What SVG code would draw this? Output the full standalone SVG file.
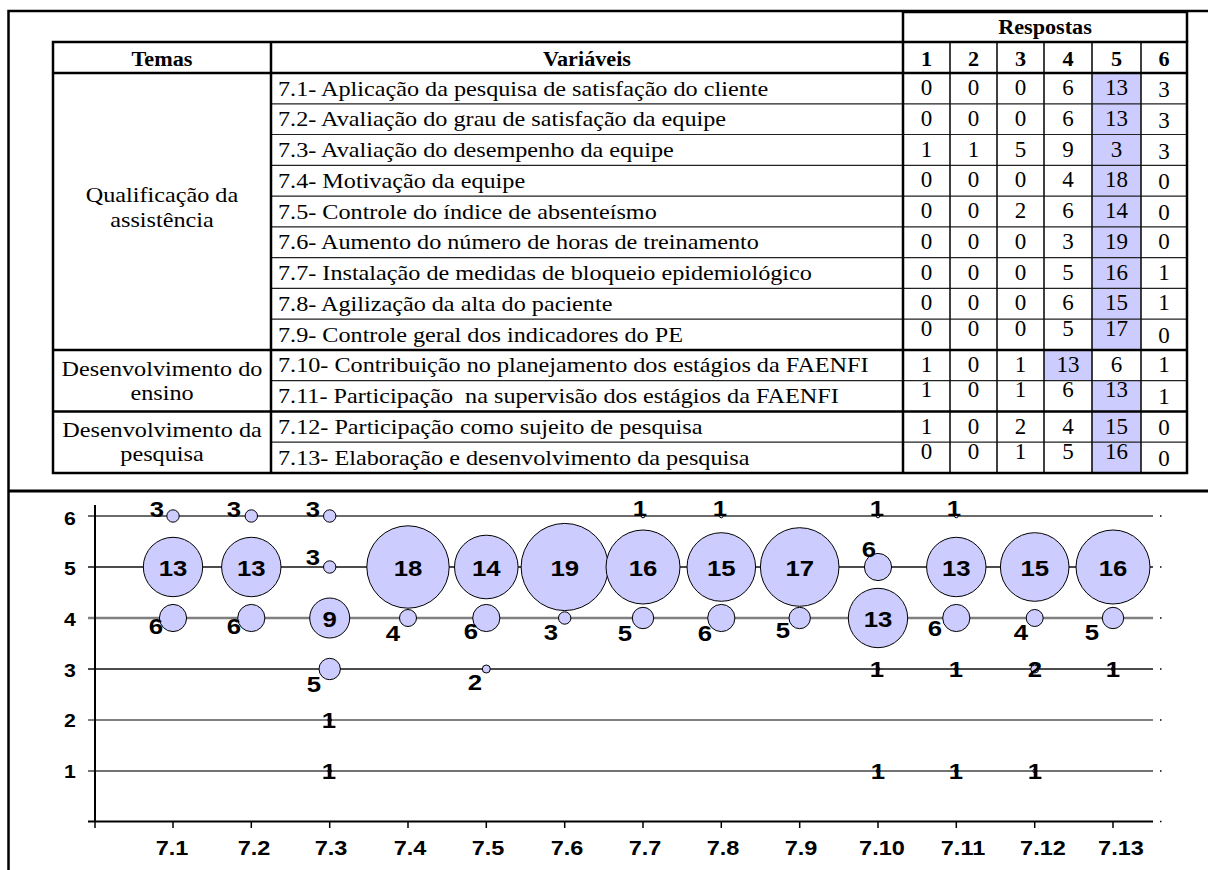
<svg xmlns="http://www.w3.org/2000/svg" width="1208" height="870" viewBox="0 0 1208 870">
<style>
.frame{fill:none;stroke:#000;stroke-width:2.5}
.thick{stroke:#000;stroke-width:2.5;fill:none}
.med{stroke:#111;stroke-width:1.6}
.thin{stroke:#222;stroke-width:1.2}
.hl{fill:#ccccff}
.tv{font-family:"Liberation Serif","Times New Roman",serif;font-size:22px;fill:#000}
.tc{font-family:"Liberation Serif","Times New Roman",serif;font-size:22px;fill:#000;text-anchor:middle}
.th{font-family:"Liberation Serif","Times New Roman",serif;font-size:20px;font-weight:bold;fill:#000;text-anchor:middle}
.tn{font-family:"Liberation Serif","Times New Roman",serif;font-size:23px;fill:#000;text-anchor:middle}
.bub{fill:#ccccff;stroke:#000;stroke-width:1}
.bl{font-family:"Liberation Sans",Arial,sans-serif;font-size:23px;font-weight:bold;fill:#000;text-anchor:middle}
.ay{font-family:"Liberation Sans",Arial,sans-serif;font-size:19px;font-weight:bold;fill:#000;text-anchor:middle}
.ax{font-family:"Liberation Sans",Arial,sans-serif;font-size:21px;font-weight:bold;fill:#000;text-anchor:middle}
</style>
<rect width="1208" height="870" fill="#fff"/>
<g id="frame">
<path class="frame" d="M8.5,870 V11 H1208"/>
<path d="M8,491 H1208" stroke="#000" stroke-width="3"/>
</g>
<g id="table">
<g id="highlights">
<rect class="hl" x="1092" y="73" width="49" height="277"/>
<rect class="hl" x="1092" y="380.7" width="49" height="92.3"/>
<rect class="hl" x="1044" y="350" width="48" height="30.7"/>
</g>
<g id="table-lines">
<g class="thin">
<path d="M271,103.8H1187M271,134.5H1187M271,165.3H1187M271,196.1H1187M271,226.9H1187M271,257.6H1187M271,288.4H1187M271,319.2H1187M271,380.7H1187M271,442.2H1187"/>
</g>
<g class="med">
<path d="M950,42V473M997,42V473M1044,42V473M1092,42V473M1141,42V473"/>
</g>
<g class="thick">
<rect x="53" y="42" width="1134" height="431"/>
<path d="M903,42V12H1187V42"/>
<path d="M903,42V473M271,42V473M53,73H1187M53,350H1187M53,411.5H1187"/>
</g>
</g>
<g id="header">
<text class="th" transform="matrix(1.11 0 0 1 1045 34)">Respostas</text>
<text class="th" transform="matrix(1.11 0 0 1 162 66)">Temas</text>
<text class="th" transform="matrix(1.11 0 0 1 587 66)">Variáveis</text>
<text class="th" transform="matrix(1.11 0 0 1 926.5 66)">1</text>
<text class="th" transform="matrix(1.11 0 0 1 973.5 66)">2</text>
<text class="th" transform="matrix(1.11 0 0 1 1020.5 66)">3</text>
<text class="th" transform="matrix(1.11 0 0 1 1068 66)">4</text>
<text class="th" transform="matrix(1.11 0 0 1 1116.5 66)">5</text>
<text class="th" transform="matrix(1.11 0 0 1 1164 66)">6</text>
</g>
<g id="temas">
<text class="tc" transform="matrix(1.1 0 0 1 162 202)">Qualificação da</text>
<text class="tc" transform="matrix(1.1 0 0 1 162 227)">assistência</text>
<text class="tc" transform="matrix(1.1 0 0 1 162 376)">Desenvolvimento do</text>
<text class="tc" transform="matrix(1.1 0 0 1 162 400)">ensino</text>
<text class="tc" transform="matrix(1.1 0 0 1 162 437)">Desenvolvimento da</text>
<text class="tc" transform="matrix(1.1 0 0 1 162 461)">pesquisa</text>
</g>
<g id="variaveis">
<text class="tv" transform="matrix(1.1 0 0 1 278 95.5)">7.1- Aplicação da pesquisa de satisfação do cliente</text>
<text class="tv" transform="matrix(1.1 0 0 1 278 126.3)">7.2- Avaliação do grau de satisfação da equipe</text>
<text class="tv" transform="matrix(1.1 0 0 1 278 157)">7.3- Avaliação do desempenho da equipe</text>
<text class="tv" transform="matrix(1.1 0 0 1 278 187.8)">7.4- Motivação da equipe</text>
<text class="tv" transform="matrix(1.1 0 0 1 278 218.6)">7.5- Controle do índice de absenteísmo</text>
<text class="tv" transform="matrix(1.1 0 0 1 278 249.4)">7.6- Aumento do número de horas de treinamento</text>
<text class="tv" transform="matrix(1.1 0 0 1 278 280.1)">7.7- Instalação de medidas de bloqueio epidemiológico</text>
<text class="tv" transform="matrix(1.1 0 0 1 278 310.9)">7.8- Agilização da alta do paciente</text>
<text class="tv" transform="matrix(1.1 0 0 1 278 341.7)">7.9- Controle geral dos indicadores do PE</text>
<text class="tv" transform="matrix(1.1 0 0 1 278 372.4)">7.10- Contribuição no planejamento dos estágios da FAENFI</text>
<text class="tv" xml:space="preserve" transform="matrix(1.1 0 0 1 278 403.2)">7.11- Participação  na supervisão dos estágios da FAENFI</text>
<text class="tv" transform="matrix(1.1 0 0 1 278 434)">7.12- Participação como sujeito de pesquisa</text>
<text class="tv" transform="matrix(1.1 0 0 1 278 464.7)">7.13- Elaboração e desenvolvimento da pesquisa</text>
</g>
<g id="respostas">
<text class="tn" y="95"><tspan x="926.5">0</tspan><tspan x="973.5">0</tspan><tspan x="1020.5">0</tspan><tspan x="1068">6</tspan><tspan x="1116.5">13</tspan><tspan x="1164" y="97">3</tspan></text>
<text class="tn" y="125.8"><tspan x="926.5">0</tspan><tspan x="973.5">0</tspan><tspan x="1020.5">0</tspan><tspan x="1068">6</tspan><tspan x="1116.5">13</tspan><tspan x="1164" y="127.8">3</tspan></text>
<text class="tn" y="156.5"><tspan x="926.5">1</tspan><tspan x="973.5">1</tspan><tspan x="1020.5">5</tspan><tspan x="1068">9</tspan><tspan x="1116.5">3</tspan><tspan x="1164" y="158.5">3</tspan></text>
<text class="tn" y="187.3"><tspan x="926.5">0</tspan><tspan x="973.5">0</tspan><tspan x="1020.5">0</tspan><tspan x="1068">4</tspan><tspan x="1116.5">18</tspan><tspan x="1164" y="189.3">0</tspan></text>
<text class="tn" y="218.1"><tspan x="926.5">0</tspan><tspan x="973.5">0</tspan><tspan x="1020.5">2</tspan><tspan x="1068">6</tspan><tspan x="1116.5">14</tspan><tspan x="1164" y="220.1">0</tspan></text>
<text class="tn" y="248.9"><tspan x="926.5">0</tspan><tspan x="973.5">0</tspan><tspan x="1020.5">0</tspan><tspan x="1068">3</tspan><tspan x="1116.5">19</tspan><tspan x="1164">0</tspan></text>
<text class="tn" y="279.6"><tspan x="926.5">0</tspan><tspan x="973.5">0</tspan><tspan x="1020.5">0</tspan><tspan x="1068">5</tspan><tspan x="1116.5">16</tspan><tspan x="1164">1</tspan></text>
<text class="tn" y="310.4"><tspan x="926.5">0</tspan><tspan x="973.5">0</tspan><tspan x="1020.5">0</tspan><tspan x="1068">6</tspan><tspan x="1116.5">15</tspan><tspan x="1164">1</tspan></text>
<text class="tn" y="335.5"><tspan x="926.5">0</tspan><tspan x="973.5">0</tspan><tspan x="1020.5">0</tspan><tspan x="1068">5</tspan><tspan x="1116.5">17</tspan><tspan x="1164" y="342.5">0</tspan></text>
<text class="tn" y="371.9"><tspan x="926.5">1</tspan><tspan x="973.5">0</tspan><tspan x="1020.5">1</tspan><tspan x="1068">13</tspan><tspan x="1116.5">6</tspan><tspan x="1164">1</tspan></text>
<text class="tn" y="397"><tspan x="926.5">1</tspan><tspan x="973.5">0</tspan><tspan x="1020.5">1</tspan><tspan x="1068">6</tspan><tspan x="1116.5">13</tspan><tspan x="1164" y="404">1</tspan></text>
<text class="tn" y="433.5"><tspan x="926.5">1</tspan><tspan x="973.5">0</tspan><tspan x="1020.5">2</tspan><tspan x="1068">4</tspan><tspan x="1116.5">15</tspan><tspan x="1164" y="435">0</tspan></text>
<text class="tn" y="458.5"><tspan x="926.5">0</tspan><tspan x="973.5">0</tspan><tspan x="1020.5">1</tspan><tspan x="1068">5</tspan><tspan x="1116.5">16</tspan><tspan x="1164" y="465.5">0</tspan></text>
</g>
</g>
<g id="chart">
<g id="gridlines">
<path d="M88,516H1153" stroke="#3a3a3a" stroke-width="1.5"/>
<path d="M88,567H1153" stroke="#111" stroke-width="1.5"/>
<path d="M88,618H1153" stroke="#808080" stroke-width="2.5"/>
<path d="M88,669H1153" stroke="#111" stroke-width="1.5"/>
<path d="M88,720H1153" stroke="#808080" stroke-width="2"/>
<path d="M88,771H1153" stroke="#444" stroke-width="1.5"/>
<path d="M1160,516h1.5M1160,567h1.5M1160,618h1.5M1160,669h1.5M1160,720h1.5M1160,771h1.5M1160,821.5h1.5" stroke="#000" stroke-width="1.5"/>
</g>
<g id="axes">
<path d="M88,821.5H1153" stroke="#000" stroke-width="2"/>
<path d="M95,505V822" stroke="#000" stroke-width="2"/>
<path d="M95,821V828M173,821V828M251.3,821V828M329.7,821V828M408,821V828M486.3,821V828M564.7,821V828M643,821V828M721.3,821V828M799.7,821V828M878,821V828M956.3,821V828M1034.7,821V828M1113,821V828" stroke="#000" stroke-width="1.5"/>
<text class="ay" transform="matrix(1.12 0 0 1 70 525)">6</text>
<text class="ay" transform="matrix(1.12 0 0 1 70 575)">5</text>
<text class="ay" transform="matrix(1.12 0 0 1 70 626)">4</text>
<text class="ay" transform="matrix(1.12 0 0 1 70 677)">3</text>
<text class="ay" transform="matrix(1.12 0 0 1 70 727)">2</text>
<text class="ay" transform="matrix(1.12 0 0 1 70 778)">1</text>
<text class="ax" transform="matrix(1.12 0 0 1 172 855)">7.1</text>
<text class="ax" transform="matrix(1.12 0 0 1 254 855)">7.2</text>
<text class="ax" transform="matrix(1.12 0 0 1 331 855)">7.3</text>
<text class="ax" transform="matrix(1.12 0 0 1 410 855)">7.4</text>
<text class="ax" transform="matrix(1.12 0 0 1 488 855)">7.5</text>
<text class="ax" transform="matrix(1.12 0 0 1 567 855)">7.6</text>
<text class="ax" transform="matrix(1.12 0 0 1 645 855)">7.7</text>
<text class="ax" transform="matrix(1.12 0 0 1 723 855)">7.8</text>
<text class="ax" transform="matrix(1.12 0 0 1 801 855)">7.9</text>
<text class="ax" transform="matrix(1.12 0 0 1 882 855)">7.10</text>
<text class="ax" transform="matrix(1.12 0 0 1 963 855)">7.11</text>
<text class="ax" transform="matrix(1.12 0 0 1 1043 855)">7.12</text>
<text class="ax" transform="matrix(1.12 0 0 1 1121 855)">7.13</text>
</g>
<g id="bubbles">
<circle class="bub" cx="564.7" cy="567" r="43.6"/>
<circle class="bub" cx="408" cy="567" r="41.2"/>
<circle class="bub" cx="799.7" cy="567" r="39.3"/>
<circle class="bub" cx="643" cy="567" r="37"/>
<circle class="bub" cx="1113" cy="567" r="37"/>
<circle class="bub" cx="721.3" cy="567" r="34.3"/>
<circle class="bub" cx="1034.7" cy="567" r="34.3"/>
<circle class="bub" cx="486.3" cy="567" r="31.8"/>
<circle class="bub" cx="173" cy="567" r="29.7"/>
<circle class="bub" cx="251.3" cy="567" r="29.7"/>
<circle class="bub" cx="956.3" cy="567" r="29.7"/>
<circle class="bub" cx="878" cy="618" r="29.7"/>
<circle class="bub" cx="329.7" cy="618" r="20"/>
<circle class="bub" cx="173" cy="618" r="13.6"/>
<circle class="bub" cx="251.3" cy="618" r="13.6"/>
<circle class="bub" cx="486.3" cy="618" r="13.6"/>
<circle class="bub" cx="721.3" cy="618" r="13.6"/>
<circle class="bub" cx="956.3" cy="618" r="13.6"/>
<circle class="bub" cx="878" cy="567" r="13.6"/>
<circle class="bub" cx="329.7" cy="669" r="10.7"/>
<circle class="bub" cx="643" cy="618" r="10.7"/>
<circle class="bub" cx="799.7" cy="618" r="10.7"/>
<circle class="bub" cx="1113" cy="618" r="10.7"/>
<circle class="bub" cx="408" cy="618" r="8.5"/>
<circle class="bub" cx="1034.7" cy="618" r="8.5"/>
<circle class="bub" cx="173" cy="516" r="6.2"/>
<circle class="bub" cx="251.3" cy="516" r="6.2"/>
<circle class="bub" cx="329.7" cy="516" r="6.2"/>
<circle class="bub" cx="329.7" cy="567" r="6.2"/>
<circle class="bub" cx="564.7" cy="618" r="6.2"/>
<circle class="bub" cx="486.3" cy="669" r="4"/>
<circle class="bub" cx="1034.7" cy="669" r="4"/>
<circle class="bub" cx="329.7" cy="720" r="1.8"/>
<circle class="bub" cx="329.7" cy="771" r="1.8"/>
<circle class="bub" cx="643" cy="516" r="1.8"/>
<circle class="bub" cx="721.3" cy="516" r="1.8"/>
<circle class="bub" cx="878" cy="516" r="1.8"/>
<circle class="bub" cx="878" cy="669" r="1.8"/>
<circle class="bub" cx="878" cy="771" r="1.8"/>
<circle class="bub" cx="956.3" cy="516" r="1.8"/>
<circle class="bub" cx="956.3" cy="669" r="1.8"/>
<circle class="bub" cx="956.3" cy="771" r="1.8"/>
<circle class="bub" cx="1034.7" cy="771" r="1.8"/>
<circle class="bub" cx="1113" cy="669" r="1.8"/>
</g>
<g id="bubble-labels">
<text class="bl" transform="matrix(1.12 0 0 1 173 575.5)">13</text>
<text class="bl" transform="matrix(1.12 0 0 1 251.3 575.5)">13</text>
<text class="bl" transform="matrix(1.12 0 0 1 408 575.5)">18</text>
<text class="bl" transform="matrix(1.12 0 0 1 486.3 575.5)">14</text>
<text class="bl" transform="matrix(1.12 0 0 1 564.7 575.5)">19</text>
<text class="bl" transform="matrix(1.12 0 0 1 643 575.5)">16</text>
<text class="bl" transform="matrix(1.12 0 0 1 721.3 575.5)">15</text>
<text class="bl" transform="matrix(1.12 0 0 1 799.7 575.5)">17</text>
<text class="bl" transform="matrix(1.12 0 0 1 956.3 575.5)">13</text>
<text class="bl" transform="matrix(1.12 0 0 1 1034.7 575.5)">15</text>
<text class="bl" transform="matrix(1.12 0 0 1 1113 575.5)">16</text>
<text class="bl" transform="matrix(1.12 0 0 1 329.7 626.5)">9</text>
<text class="bl" transform="matrix(1.12 0 0 1 878 626.5)">13</text>
<text class="bl" transform="matrix(1.12 0 0 1 157 517)">3</text>
<text class="bl" transform="matrix(1.12 0 0 1 234 517)">3</text>
<text class="bl" transform="matrix(1.12 0 0 1 313 517)">3</text>
<text class="bl" transform="matrix(1.12 0 0 1 640 516)">1</text>
<text class="bl" transform="matrix(1.12 0 0 1 720 516)">1</text>
<text class="bl" transform="matrix(1.12 0 0 1 877 516)">1</text>
<text class="bl" transform="matrix(1.12 0 0 1 954 516)">1</text>
<text class="bl" transform="matrix(1.12 0 0 1 313 565)">3</text>
<text class="bl" transform="matrix(1.12 0 0 1 869 557)">6</text>
<text class="bl" transform="matrix(1.12 0 0 1 156 634)">6</text>
<text class="bl" transform="matrix(1.12 0 0 1 234 634)">6</text>
<text class="bl" transform="matrix(1.12 0 0 1 393 641)">4</text>
<text class="bl" transform="matrix(1.12 0 0 1 471 639)">6</text>
<text class="bl" transform="matrix(1.12 0 0 1 551 640)">3</text>
<text class="bl" transform="matrix(1.12 0 0 1 625 641)">5</text>
<text class="bl" transform="matrix(1.12 0 0 1 705 641)">6</text>
<text class="bl" transform="matrix(1.12 0 0 1 783 638)">5</text>
<text class="bl" transform="matrix(1.12 0 0 1 935 636)">6</text>
<text class="bl" transform="matrix(1.12 0 0 1 1021 640)">4</text>
<text class="bl" transform="matrix(1.12 0 0 1 1092 640)">5</text>
<text class="bl" transform="matrix(1.12 0 0 1 314 692)">5</text>
<text class="bl" transform="matrix(1.12 0 0 1 475 690)">2</text>
<text class="bl" transform="matrix(1.12 0 0 1 877 677)">1</text>
<text class="bl" transform="matrix(1.12 0 0 1 956 677)">1</text>
<text class="bl" transform="matrix(1.12 0 0 1 1035 677)">2</text>
<text class="bl" transform="matrix(1.12 0 0 1 1113 677)">1</text>
<text class="bl" transform="matrix(1.12 0 0 1 329 728)">1</text>
<text class="bl" transform="matrix(1.12 0 0 1 329 779)">1</text>
<text class="bl" transform="matrix(1.12 0 0 1 878 779)">1</text>
<text class="bl" transform="matrix(1.12 0 0 1 956 779)">1</text>
<text class="bl" transform="matrix(1.12 0 0 1 1035 779)">1</text>
</g>
</g>
</svg>
